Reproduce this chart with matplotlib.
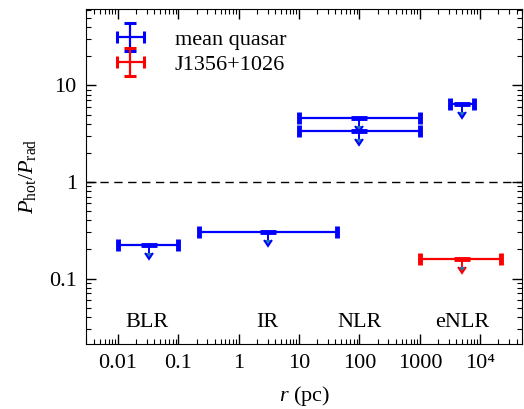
import numpy as np
import matplotlib
matplotlib.use("Agg")
import matplotlib.pyplot as plt
from matplotlib.legend_handler import HandlerErrorbar
from matplotlib.container import ErrorbarContainer

plt.rcParams["font.family"] = ["Liberation Serif", "DejaVu Serif"]
plt.rcParams["mathtext.fontset"] = "custom"
plt.rcParams["mathtext.rm"] = "Liberation Serif"
plt.rcParams["mathtext.it"] = "Liberation Serif:italic"
plt.rcParams["font.size"] = 16

# mean quasar upper limits: radius (pc), range, P_hot/P_rad
mq_r = [0.033, 3.0, 100.0, 100.0, 5000.0]
mq_rlo = [0.01, 0.22, 10.0, 10.0, 3200.0]
mq_rhi = [0.1, 42.0, 1000.0, 1000.0, 8000.0]
mq_p = [0.22, 0.30, 4.6, 3.4, 6.4]

# J1356+1026
j_r = [5000.0]
j_rlo = [1000.0]
j_rhi = [22000.0]
j_p = [0.16]

regions = ["BLR", "IR", "NLR", "eNLR"]
region_r = [0.03, 3.0, 100.0, 5000.0]
region_y = 0.035

xticks = [0.01, 0.1, 1, 10, 100, 1000, 1e4]
xticklabels = ["0.01", "0.1", "1", "10", "100", "1000", "10\u2074"]
yticks = [0.1, 1, 10]
yticklabels = ["0.1", "1", "10"]

fig = plt.figure(figsize=(5.24, 4.09), dpi=100)
ax = fig.add_axes([0.165, 0.159, 0.832, 0.819])
ax.set_xscale("log")
ax.set_yscale("log")


def limits(r, rlo, rhi, p, color):
    r = np.array(r); p = np.array(p)
    xerr = [r - np.array(rlo), np.array(rhi) - r]
    # horizontal range with thick caps
    ax.errorbar(r, p, xerr=xerr, fmt="_", color=color, ms=11, mew=3.5,
                elinewidth=1.6, capsize=4.4, capthick=2.2, zorder=3)
    # downward arrows for upper limits
    ax.errorbar(r, p, yerr=p * 0.17, uplims=True, fmt="none", ecolor=color,
                elinewidth=1.4, capsize=2.8, capthick=1.4, zorder=3)


limits(mq_r, mq_rlo, mq_rhi, mq_p, "blue")
limits(j_r, j_rlo, j_rhi, j_p, "red")

ax.axhline(1, color="black", ls=(0, (6, 4)), lw=1.0, zorder=1)

for name, xr in zip(regions, region_r):
    ax.text(xr, region_y, name, ha="center", va="center")

# legend proxies
h1 = ax.errorbar([np.nan], [np.nan], xerr=[1], yerr=[1], fmt="none", ecolor="blue",
                 elinewidth=1.6, capsize=4.4, capthick=2.2)
h2 = ax.errorbar([np.nan], [np.nan], xerr=[1], yerr=[1], fmt="none", ecolor="red",
                 elinewidth=1.6, capsize=4.4, capthick=2.2)
ax.legend([h1, h2], ["mean quasar", "J1356+1026"], loc="upper left", frameon=False,
          bbox_to_anchor=(0.027, 0.99),
          handler_map={ErrorbarContainer: HandlerErrorbar(xerr_size=0.62)},
          handlelength=1.4, handletextpad=1.3, labelspacing=0.22,
          borderaxespad=0.35, borderpad=0.4)

ax.set_xlim(0.003, 5e4)
ax.set_ylim(0.021, 62)
ax.set_xticks(xticks)
ax.set_xticklabels(xticklabels)
ax.set_yticks(yticks)
ax.set_yticklabels(yticklabels)
ax.tick_params(which="both", direction="in", top=True, right=True)
ax.tick_params(which="major", length=7, width=1)
ax.tick_params(which="minor", length=3.5, width=0.8)
ax.tick_params(axis="x", which="major", pad=7)
ax.tick_params(axis="y", which="major", pad=7)
ax.xaxis.set_minor_locator(matplotlib.ticker.LogLocator(base=10, subs=np.arange(2, 10), numticks=20))
ax.yaxis.set_minor_locator(matplotlib.ticker.LogLocator(base=10, subs=np.arange(2, 10), numticks=20))
ax.xaxis.set_minor_formatter(matplotlib.ticker.NullFormatter())
ax.yaxis.set_minor_formatter(matplotlib.ticker.NullFormatter())

ax.set_xlabel(r"$r$ (pc)", labelpad=8)
ax.set_ylabel(r"$P_{\rm hot}/P_{\rm rad}$", labelpad=8)

fig.savefig("out.png", dpi=100)
